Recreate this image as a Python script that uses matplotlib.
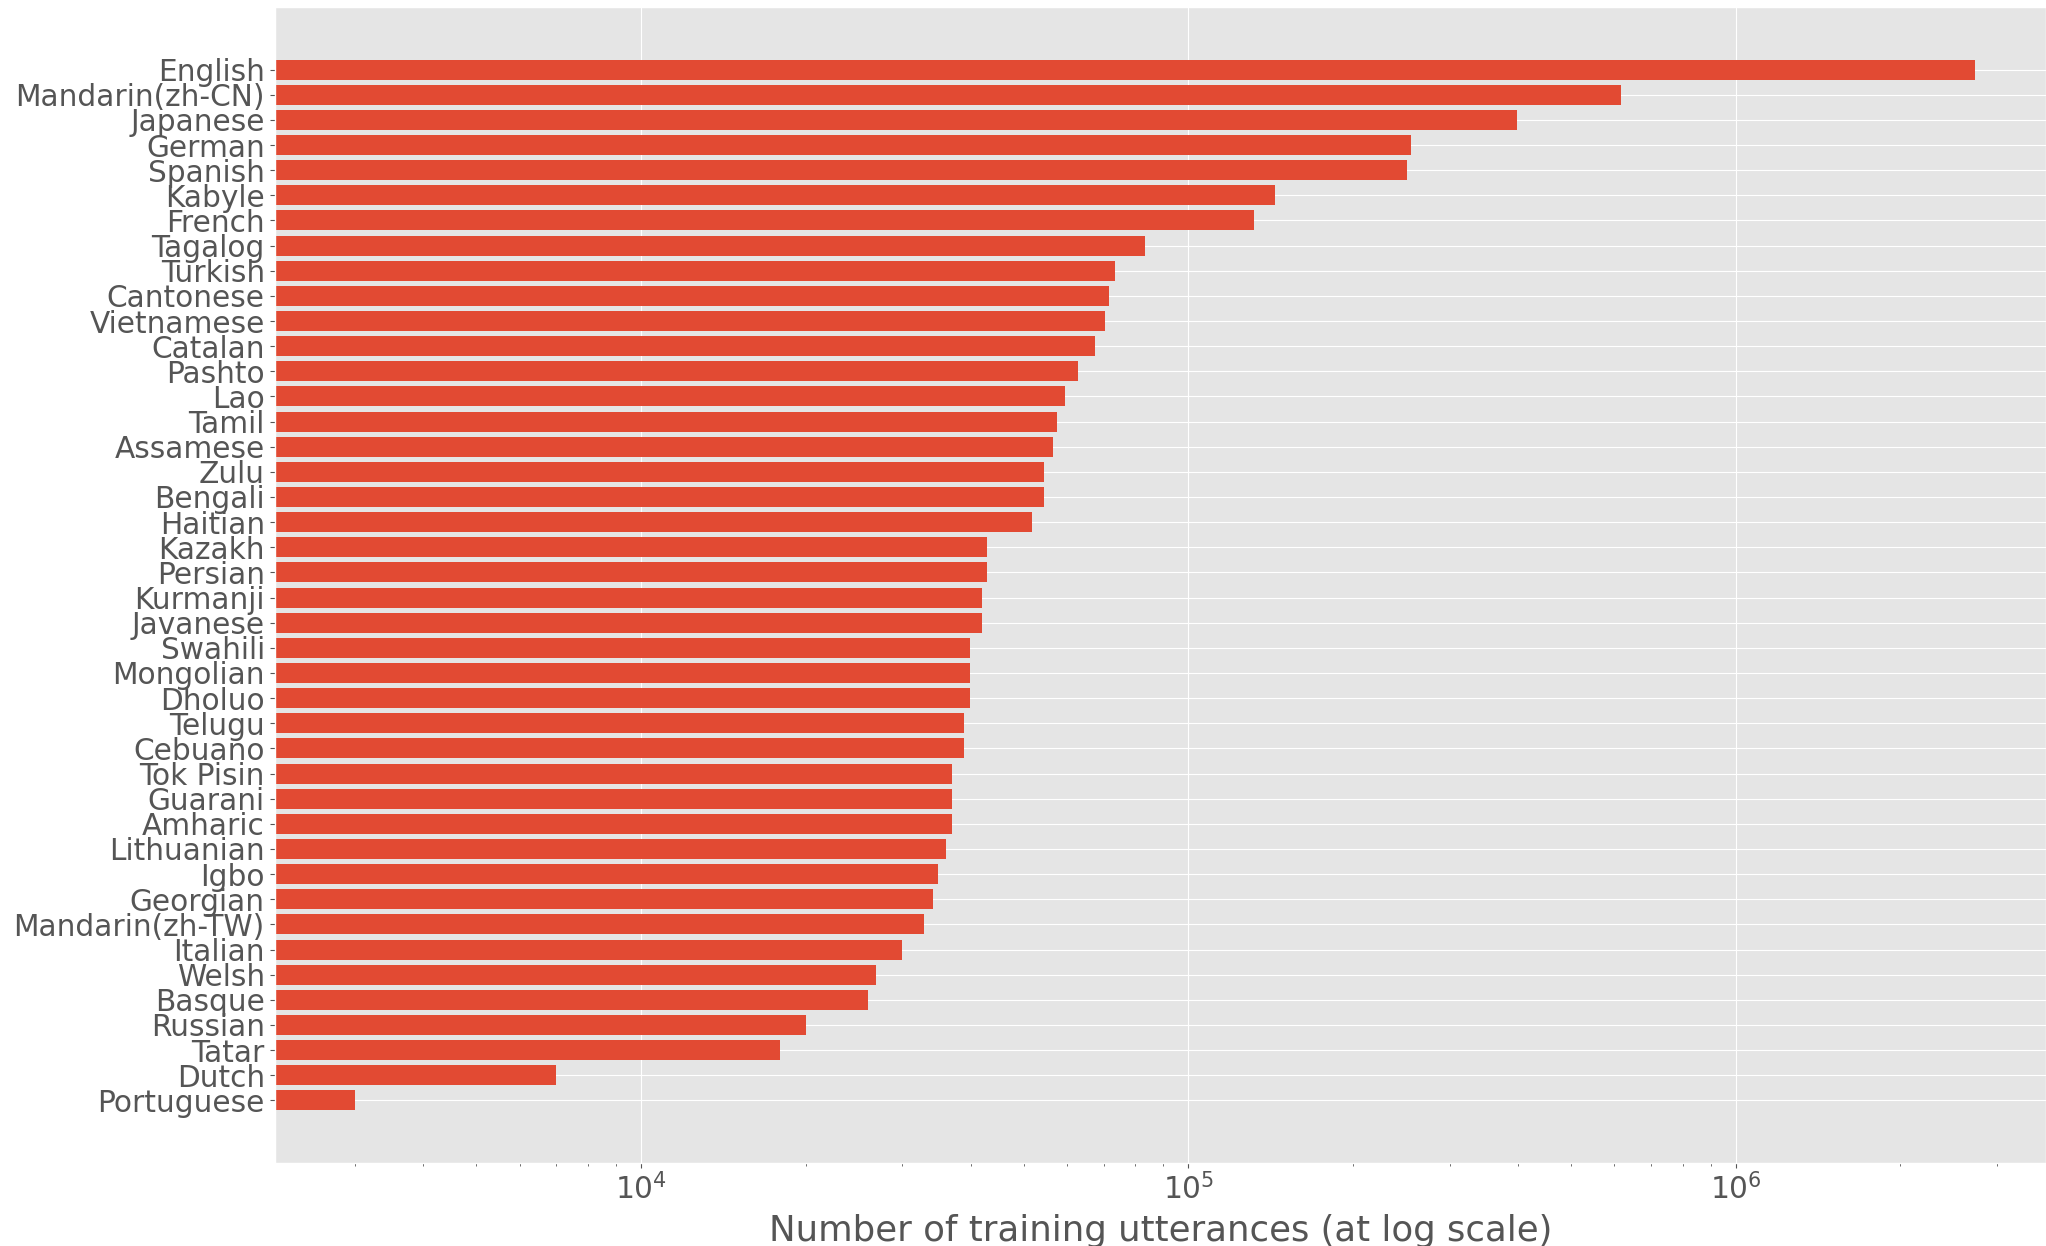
import matplotlib
matplotlib.use("Agg")
import matplotlib.pyplot as plt

plt.style.use("ggplot")
plt.rcParams["font.size"] = 21.3

languages = [
    "English", "Mandarin(zh-CN)", "Japanese", "German", "Spanish", "Kabyle",
    "French", "Tagalog", "Turkish", "Cantonese", "Vietnamese", "Catalan",
    "Pashto", "Lao", "Tamil", "Assamese", "Zulu", "Bengali", "Haitian",
    "Kazakh", "Persian", "Kurmanji", "Javanese", "Swahili", "Mongolian",
    "Dholuo", "Telugu", "Cebuano", "Tok Pisin", "Guarani", "Amharic",
    "Lithuanian", "Igbo", "Georgian", "Mandarin(zh-TW)", "Italian", "Welsh",
    "Basque", "Russian", "Tatar", "Dutch", "Portuguese",
]

utterances = [
    2740000, 617000, 398000, 255000, 251000, 144000,
    132000, 83400, 73500, 71500, 70500, 67600,
    62700, 59600, 57600, 56600, 54500, 54500, 51700,
    42800, 42800, 41900, 41900, 39900, 39900,
    39900, 38900, 38900, 37000, 37000, 37000,
    36000, 34900, 34100, 32900, 29900, 26900,
    26000, 20000, 17900, 7000, 3000,
]

fig = plt.figure(figsize=(20.46, 12.46), dpi=100)
ax = fig.add_axes([0.1342, 0.0666, 0.8658, 0.9278])

ax.barh(languages, utterances, color="#E24A33", height=0.8)
ax.set_xscale("log")
ax.set_xlim(2138, 3.69e6)
ax.invert_yaxis()
ax.set_xlabel("Number of training utterances (at log scale)", labelpad=6)

fig.savefig("out.png", dpi=100)
